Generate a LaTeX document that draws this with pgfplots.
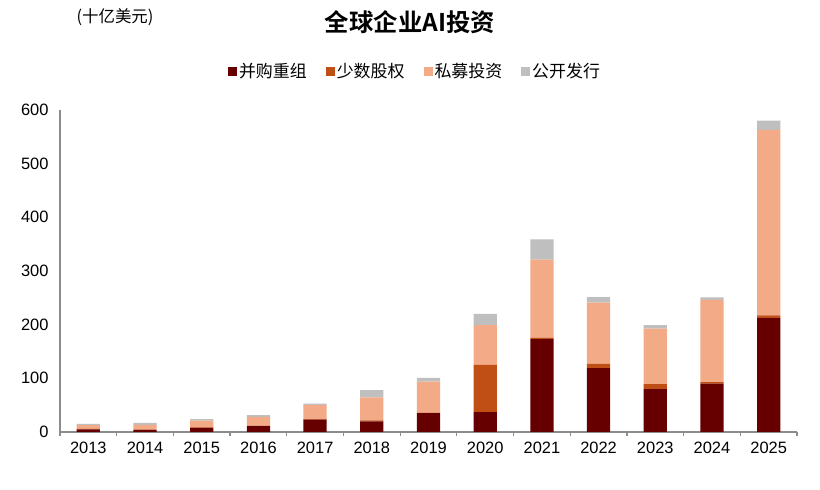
\documentclass[border=0pt]{standalone}
\usepackage{pgfplots}
\pgfplotsset{compat=1.18}
\usepackage{pgfplotstable}
\usepackage{fontspec}
\setmainfont{Liberation Sans}
\newfontfamily\cjk{Noto Sans CJK SC}[BoldFont={Noto Sans CJK SC Bold}]

\definecolor{ma}{HTML}{660000}
\definecolor{minor}{HTML}{BF4F15}
\definecolor{priv}{HTML}{F2AB86}
\definecolor{ipo}{HTML}{BFBFBF}
\definecolor{axisgrey}{HTML}{8C8C8C}

% Global corporate AI investment, USD bn
\pgfplotstableread{
x  ma     minor  priv    ipo
0  5      1      7       2
1  4      0.5    9       3.5
2  7.5    1      12.5    3
3  11     1      16      3.5
4  23     1      26      3
5  20     1.5    43      13.5
6  35     1      58      7
7  37     88     74      21
8  173    3      145     38
9  119    8      114     10.5
10 80     9      103.5   6.5
11 90     3      153     5
12 212    5.5    345.5   17
}\datatable

\begin{document}
\begin{tikzpicture}[x=1bp,y=1bp]
\useasboundingbox (-60,-58) rectangle (760,432);
\begin{axis}[
  at={(0,0)}, anchor=south west,
  scale only axis, width=737bp, height=322bp,
  ybar stacked, bar width=0.41,
  xmin=-0.5, xmax=12.5, ymin=0, ymax=600,
  xtick={0,...,12},
  xticklabels={2013,2014,2015,2016,2017,2018,2019,2020,2021,2022,2023,2024,2025},
  minor xtick={-0.5,0.5,...,12.5},
  ytick={0,100,...,600},
  axis x line*=bottom, axis y line*=left,
  axis line style={axisgrey, line width=1.4bp, -},
  major tick length=0pt,
  minor tick length=4.5bp,
  xtick pos=bottom,
  tick align=outside,
  minor tick style={axisgrey, line width=1.2bp},
  every tick label/.append style={font=\fontsize{16.5}{19}\selectfont},
  /pgf/number format/assume math mode=true,
  xticklabel style={yshift=-7bp},
  yticklabel style={xshift=-8bp},
  legend columns=4,
  legend style={at={(0.4817,1.121)}, anchor=center, draw=none, fill=none,
    font=\cjk\fontsize{17}{19}\selectfont,
    /tikz/every even column/.append style={column sep=17bp},
    inner sep=0pt},
  legend image code/.code={\fill[#1] (0bp,-4.5bp) rectangle (9bp,4.5bp);},
  clip=false,
]
\addplot[fill=ma, draw=none] table[x=x, y=ma] {\datatable};
\addplot[fill=minor, draw=none] table[x=x, y=minor] {\datatable};
\addplot[fill=priv, draw=none] table[x=x, y=priv] {\datatable};
\addplot[fill=ipo, draw=none] table[x=x, y=ipo] {\datatable};
\legend{并购重组,少数股权,私募投资,公开发行}
\end{axis}
\node at (350,410) {\cjk\bfseries\fontsize{24.5}{27}\selectfont 全球企业AI投资};
\node at (55,415) {\cjk\fontsize{16.5}{19}\selectfont (十亿美元)};
\end{tikzpicture}
\end{document}
